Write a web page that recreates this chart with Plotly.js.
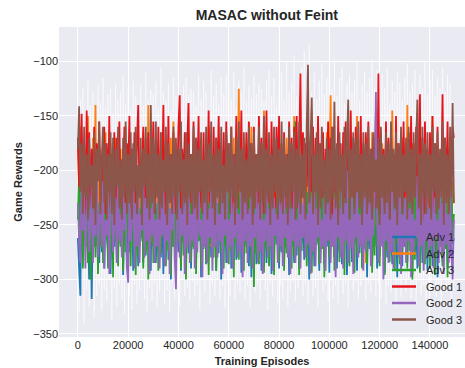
<!DOCTYPE html>
<html>
<head>
<meta charset="utf-8">
<script src="https://cdn.plot.ly/plotly-3.0.1.min.js"></script>
<style>html,body{margin:0;padding:0;background:#fff;}#chart{width:465px;height:368px;}</style>
</head>
<body>
<div id="chart"></div>
<script>
// Rewards logged every 500 training episodes (0 .. 149500)
const episodeStep = 500;
const episodeCount = 300;
const episodes = Array.from({length: episodeCount}, (_, i) => i * episodeStep);

const seriesNames = ["Adv 1", "Adv 2", "Adv 3", "Good 1", "Good 2", "Good 3"];

const adv1 = [
-262,-290,-315,-205,-280,-230,-190,-270,-250,-300,-215,-318,-230,-270,-185,-265,-240,-285,-200,-275,
-215,-290,-195,-260,-275,-210,-295,-240,-200,-270,-225,-285,-190,-255,-268,-220,-296,-235,-210,-282,
-180,-275,-245,-220,-292,-205,-270,-240,-288,-195,-262,-210,-285,-225,-278,-200,-265,-230,-292,-185,
-270,-215,-285,-240,-262,-200,-280,-225,-295,-195,-268,-210,-282,-235,-300,-205,-270,-190,-285,-230,
-275,-215,-292,-200,-266,-240,-288,-210,-276,-195,-290,-225,-270,-205,-284,-235,-265,-200,-298,-220,
-272,-190,-286,-230,-268,-210,-280,-240,-265,-205,-292,-220,-276,-195,-300,-225,-270,-210,-285,-235,
-268,-200,-290,-220,-275,-190,-282,-230,-266,-205,-294,-215,-278,-240,-270,-200,-288,-225,-298,-195,
-272,-235,-286,-210,-268,-220,-292,-200,-276,-240,-285,-215,-270,-230,-295,-205,-280,-225,-268,-195,
-290,-235,-275,-210,-284,-200,-262,-225,-296,-210,-270,-240,-285,-195,-278,-220,-290,-205,-266,-230,
-282,-215,-270,-235,-300,-200,-276,-220,-288,-210,-265,-240,-292,-205,-272,-225,-286,-195,-270,-230,
-294,-210,-268,-235,-280,-200,-290,-220,-274,-205,-286,-240,-265,-215,-296,-225,-270,-200,-284,-230,
-268,-210,-292,-225,-276,-195,-288,-235,-266,-210,-298,-220,-272,-205,-285,-240,-270,-215,-290,-200,
-278,-230,-268,-210,-294,-225,-280,-200,-270,-240,-286,-215,-262,-230,-298,-205,-276,-220,-288,-195,
-270,-235,-284,-210,-266,-225,-296,-200,-278,-240,-290,-215,-268,-230,-285,-205,-274,-220,-292,-210,
-266,-235,-288,-200,-276,-225,-298,-215,-270,-240,-284,-205,-262,-230,-290,-210,-278,-225,-268,-262];

const adv2 = [
-175,-220,-160,-240,-195,-250,-185,-230,-150,-215,-200,-260,-170,-235,-140,-270,-205,-245,-180,-225,
-200,-255,-165,-240,-190,-290,-175,-235,-210,-250,-170,-225,-195,-265,-180,-240,-215,-255,-160,-230,
-205,-250,-180,-225,-195,-260,-175,-240,-200,-270,-185,-230,-165,-245,-210,-255,-140,-235,-190,-265,
-175,-245,-210,-230,-185,-275,-165,-240,-200,-255,-180,-230,-215,-260,-170,-245,-155,-235,-195,-250,
-185,-240,-170,-260,-200,-225,-180,-250,-165,-235,-210,-265,-190,-245,-175,-230,-205,-255,-170,-240,
-195,-250,-180,-225,-160,-270,-200,-235,-185,-250,-170,-240,-210,-230,-175,-260,-190,-245,-165,-235,
-200,-255,-185,-240,-170,-265,-195,-230,-125,-250,-180,-240,-205,-260,-175,-235,-190,-250,-160,-245,
-215,-230,-185,-265,-170,-240,-200,-250,-145,-235,-190,-255,-175,-240,-210,-280,-180,-230,-195,-260,
-165,-245,-200,-235,-185,-270,-170,-240,-205,-255,-180,-230,-150,-250,-195,-245,-175,-260,-210,-235,
-185,-250,-170,-240,-200,-265,-145,-235,-190,-250,-175,-230,-205,-260,-180,-245,-195,-235,-165,-250,
-200,-131,-240,-180,-255,-195,-235,-170,-270,-190,-245,-175,-230,-205,-260,-165,-240,-185,-250,-200,
-175,-235,-150,-260,-195,-245,-180,-230,-205,-285,-170,-240,-190,-255,-165,-235,-200,-250,-160,-240,
-185,-250,-175,-230,-200,-265,-180,-240,-195,-255,-145,-235,-210,-250,-175,-240,-190,-260,-170,-230,
-200,-245,-140,-235,-185,-270,-175,-240,-205,-250,-180,-230,-165,-255,-195,-240,-175,-250,-200,-235,
-185,-260,-150,-240,-200,-225,-175,-275,-190,-245,-165,-235,-205,-250,-180,-240,-195,-255,-210,-230];

const adv3 = [
-245,-200,-270,-215,-290,-225,-260,-185,-285,-205,-300,-225,-265,-195,-280,-210,-295,-230,-270,-190,
-285,-205,-262,-220,-290,-200,-275,-215,-298,-180,-265,-225,-288,-205,-270,-195,-292,-215,-275,-230,
-260,-205,-288,-190,-270,-220,-296,-210,-278,-235,-265,-200,-290,-215,-275,-185,-300,-225,-268,-205,
-285,-215,-270,-230,-292,-200,-276,-220,-262,-195,-288,-210,-274,-235,-296,-205,-270,-225,-282,-190,
-266,-215,-290,-205,-278,-230,-300,-210,-268,-195,-284,-225,-272,-200,-295,-220,-264,-235,-288,-205,
-270,-190,-285,-215,-296,-225,-268,-200,-280,-210,-292,-230,-265,-195,-276,-220,-290,-205,-270,-215,
-286,-200,-274,-225,-298,-210,-266,-190,-282,-220,-270,-205,-292,-185,-276,-230,-264,-215,-288,-200,
-307,-220,-276,-205,-286,-230,-268,-195,-294,-215,-272,-225,-288,-200,-270,-210,-296,-225,-262,-205,
-284,-215,-270,-190,-292,-230,-276,-205,-266,-220,-290,-200,-278,-155,-268,-225,-296,-210,-274,-235,
-262,-205,-288,-220,-270,-200,-294,-215,-276,-190,-268,-225,-286,-205,-272,-215,-298,-220,-265,-200,
-280,-225,-270,-210,-292,-195,-266,-230,-284,-205,-274,-215,-296,-200,-268,-225,-288,-210,-270,-220,
-294,-205,-276,-215,-268,-190,-290,-225,-272,-205,-286,-215,-264,-200,-294,-225,-278,-150,-270,-210,
-288,-220,-266,-200,-296,-215,-274,-230,-284,-205,-270,-220,-292,-195,-268,-215,-286,-235,-276,-205,
-266,-225,-290,-210,-274,-200,-300,-225,-282,-190,-270,-215,-294,-205,-268,-220,-286,-210,-276,-230,
-290,-205,-268,-220,-296,-200,-278,-215,-270,-225,-288,-200,-272,-215,-298,-225,-266,-210,-262,-240];

const good1 = [
-170,-215,-190,-148,-230,-175,-240,-145,-210,-165,-235,-180,-220,-160,-245,-175,-205,-155,-230,-185,
-215,-160,-240,-175,-225,-150,-235,-185,-210,-165,-245,-170,-220,-155,-230,-190,-215,-160,-240,-175,
-205,-150,-235,-180,-220,-165,-245,-175,-140,-225,-190,-215,-160,-235,-170,-250,-165,-225,-185,-210,
-155,-240,-175,-220,-160,-235,-180,-210,-140,-245,-170,-225,-150,-230,-185,-215,-165,-240,-175,-220,
-160,-131,-235,-180,-215,-165,-245,-175,-138,-230,-185,-220,-155,-240,-170,-210,-150,-235,-190,-225,
-165,-240,-175,-215,-145,-230,-185,-220,-160,-245,-170,-210,-150,-235,-180,-225,-165,-240,-155,-215,
-175,-230,-160,-245,-185,-220,-150,-235,-170,-215,-145,-240,-180,-225,-165,-235,-155,-210,-175,-245,
-160,-220,-185,-235,-150,-225,-170,-240,-165,-210,-145,-230,-180,-245,-155,-220,-175,-235,-160,-215,
-150,-240,-175,-225,-165,-235,-185,-215,-155,-230,-170,-245,-160,-220,-150,-235,-180,-111,-225,-165,
-240,-175,-215,-155,-230,-185,-220,-160,-245,-170,-210,-150,-235,-175,-225,-165,-240,-180,-215,-155,
-230,-170,-245,-160,-220,-185,-235,-150,-215,-175,-240,-165,-225,-155,-235,-180,-210,-145,-240,-170,
-225,-160,-235,-185,-215,-150,-245,-175,-220,-165,-230,-155,-240,-180,-215,-170,-235,-145,-225,-111,
-240,-165,-220,-180,-235,-155,-215,-170,-245,-160,-225,-185,-230,-150,-240,-175,-210,-165,-235,-155,
-225,-180,-245,-165,-215,-150,-235,-175,-220,-160,-240,-185,-130,-230,-170,-245,-155,-215,-180,-235,
-165,-220,-150,-240,-175,-225,-160,-235,-185,-210,-130,-240,-170,-225,-155,-235,-180,-215,-160,-170];

const good2 = [
-230,-265,-285,-205,-255,-220,-290,-240,-195,-275,-250,-215,-285,-235,-260,-200,-280,-245,-225,-270,
-210,-290,-245,-260,-215,-295,-235,-205,-275,-250,-225,-285,-200,-265,-240,-280,-215,-255,-230,-290,
-303,-220,-265,-245,-205,-290,-230,-270,-210,-285,-240,-255,-195,-280,-225,-265,-215,-295,-235,-260,
-205,-285,-245,-270,-215,-290,-230,-260,-200,-288,-240,-265,-220,-295,-235,-255,-210,-280,-309,-240,
-215,-280,-235,-260,-205,-295,-225,-270,-190,-285,-240,-265,-210,-290,-230,-275,-200,-260,-245,-298,
-220,-270,-205,-285,-235,-262,-215,-292,-228,-270,-200,-280,-240,-265,-210,-295,-225,-260,-195,-285,
-245,-270,-215,-290,-230,-262,-205,-280,-240,-275,-210,-298,-225,-265,-195,-285,-235,-270,-220,-290,
-240,-262,-205,-285,-230,-275,-215,-295,-245,-265,-200,-280,-235,-270,-210,-292,-225,-260,-240,-285,
-215,-270,-230,-288,-205,-262,-240,-280,-220,-295,-235,-265,-210,-285,-245,-270,-200,-290,-230,-262,
-215,-280,-240,-268,-205,-295,-225,-275,-210,-288,-235,-262,-200,-285,-245,-270,-220,-292,-230,-265,
-210,-285,-240,-270,-225,-298,-205,-262,-235,-280,-215,-290,-230,-265,-200,-285,-245,-272,-220,-295,
-235,-262,-210,-280,-240,-270,-225,-292,-205,-275,-230,-265,-215,-288,-240,-260,-220,-128,-245,-285,
-240,-270,-215,-300,-230,-265,-205,-285,-245,-275,-210,-290,-235,-262,-220,-280,-200,-295,-240,-270,
-225,-285,-210,-265,-235,-298,-215,-275,-245,-262,-205,-288,-230,-270,-220,-292,-240,-265,-210,-280,
-235,-270,-215,-290,-225,-262,-245,-285,-205,-275,-230,-295,-215,-268,-240,-285,-220,-272,-300,-245];

const good3 = [
-180,-141,-220,-175,-240,-160,-225,-185,-245,-170,-215,-195,-235,-165,-250,-180,-210,-155,-240,-190,
-160,-230,-175,-245,-185,-220,-165,-240,-170,-250,-180,-215,-160,-235,-190,-245,-170,-225,-155,-240,
-185,-230,-165,-245,-175,-220,-160,-240,-195,-225,-170,-250,-180,-215,-160,-235,-185,-245,-140,-230,
-170,-240,-155,-225,-185,-245,-165,-235,-190,-220,-160,-250,-175,-230,-185,-240,-160,-225,-170,-245,
-180,-220,-155,-240,-190,-230,-165,-250,-175,-225,-185,-240,-160,-235,-170,-245,-180,-220,-165,-240,
-190,-230,-160,-245,-175,-220,-155,-235,-185,-250,-170,-225,-180,-240,-160,-230,-195,-245,-165,-220,
-175,-240,-160,-225,-185,-250,-170,-235,-155,-220,-180,-245,-165,-230,-190,-240,-160,-225,-175,-250,
-165,-235,-185,-220,-160,-245,-175,-230,-150,-240,-180,-225,-165,-250,-185,-235,-160,-220,-170,-245,
-180,-230,-155,-240,-170,-225,-185,-250,-160,-235,-175,-220,-165,-245,-180,-230,-155,-240,-185,-225,
-170,-245,-160,-103,-230,-175,-133,-240,-185,-220,-165,-250,-175,-235,-160,-225,-190,-240,-170,-230,
-180,-245,-160,-225,-137,-235,-175,-250,-165,-220,-185,-240,-160,-230,-175,-135,-245,-180,-225,-165,
-240,-170,-220,-155,-235,-185,-250,-165,-225,-175,-240,-160,-230,-180,-245,-165,-220,-190,-235,-170,
-250,-160,-225,-185,-240,-165,-230,-175,-245,-155,-220,-180,-235,-165,-250,-175,-225,-160,-240,-185,
-220,-170,-245,-160,-230,-180,-240,-165,-225,-175,-135,-235,-185,-250,-160,-225,-175,-240,-165,-230,
-185,-245,-160,-220,-175,-240,-165,-235,-180,-225,-155,-250,-170,-230,-185,-240,-160,-225,-138,-230];

// faint white spread drawn behind the curves
const spread = [
-120,-330,-135,-305,-125,-340,-145,-310,-118,-325,-140,-300,-128,-335,-150,-315,-122,-305,-138,-328,
-115,-310,-142,-320,-130,-300,-125,-338,-148,-308,-120,-325,-135,-305,-128,-318,-112,-332,-140,-302,
-125,-315,-145,-328,-118,-305,-132,-322,-138,-310,-122,-300,-140,-318,-110,-330,-135,-308,-126,-320,
-130,-305,-118,-325,-142,-312,-105,-300,-128,-322,-136,-310,-120,-330,-145,-303,-115,-318,-132,-306,
-108,-325,-138,-300,-122,-315,-115,-308,-130,-320,-125,-302,-128,-316,-140,-305,-112,-328,-135,-300,
-118,-312,-128,-300,-145,-322,-108,-305,-132,-315,-120,-300,-140,-318,-115,-306,-130,-326,-112,-302,
-125,-315,-135,-300,-110,-320,-142,-305,-118,-312,-128,-300,-105,-318,-138,-306,-122,-325,-134,-300,
-112,-312,-130,-305,-120,-318,-125,-300,-136,-310,-118,-328,-108,-304,-132,-316,-115,-300,-140,-322,
-126,-306,-110,-318,-135,-300,-100,-325,-128,-310,-118,-302,-95,-320,-132,-308,-112,-300,-105,-315,
-90,-305,-120,-322,-85,-300,-128,-316,-110,-308,-135,-325,-118,-300,-102,-312,-130,-304,-115,-320,
-108,-300,-125,-318,-98,-306,-132,-322,-115,-300,-105,-314,-138,-304,-120,-326,-112,-300,-128,-310,
-118,-302,-100,-318,-135,-306,-122,-300,-110,-320,-128,-305,-115,-312,-98,-300,-125,-316,-108,-304,
-130,-318,-112,-300,-125,-322,-105,-306,-138,-312,-118,-300,-128,-325,-110,-304,-120,-316,-135,-300,
-115,-312,-102,-300,-128,-318,-120,-305,-108,-322,-135,-300,-112,-314,-125,-306,-100,-320,-130,-302,
-118,-310,-108,-300,-132,-316,-115,-304,-125,-320,-105,-300,-128,-312,-112,-306,-120,-318,-136,-310];

const seriesValues = [adv1, adv2, adv3, good1, good2, good3];
const seriesColors = ["#1f77b4", "#ff7f0e", "#2ca02c", "#e8141c", "#9467bd", "#8c564b"];

const yTicks = [-350, -300, -250, -200, -150, -100];
const xTicks = [0, 20000, 40000, 60000, 80000, 100000, 120000, 140000];

const traces = [{
  x: episodes, y: spread, type: "scatter", mode: "lines",
  line: {color: "rgba(255,255,255,0.5)", width: 1, simplify: false},
  showlegend: false, hoverinfo: "skip"
}];
seriesNames.forEach((name, k) => {
  traces.push({
    x: episodes, y: seriesValues[k], type: "scatter", mode: "lines",
    name: name, line: {color: seriesColors[k], width: 1.8, simplify: false},
    showlegend: false
  });
});

const font = "Liberation Sans, Arial, sans-serif";

// Legend drawn as key lines + labels (matplotlib spacing)
const L = 59, W = 406, B = 337, H = 310;
const px2x = p => (p - L) / W;
const py2y = p => (B - p) / H;
const legendRows = [237, 253.5, 270, 286.5, 303, 319.5];
const shapes = [], annotations = [];
seriesNames.forEach((name, k) => {
  const yy = py2y(legendRows[k]);
  shapes.push({type: "line", xref: "paper", yref: "paper",
    x0: px2x(392), x1: px2x(416), y0: yy, y1: yy,
    line: {color: seriesColors[k], width: 2.5}});
  annotations.push({xref: "paper", yref: "paper", x: px2x(424), y: yy,
    xanchor: "left", yanchor: "middle", showarrow: false, text: name,
    font: {family: font, size: 11, color: "#262626"}});
});

const layout = {
  width: 465, height: 368,
  margin: {l: 59, r: 0, t: 27, b: 31},
  paper_bgcolor: "#ffffff",
  plot_bgcolor: "#EAEAF2",
  font: {family: font, size: 11, color: "#262626"},
  title: {
    text: "<b>MASAC without Feint</b>",
    font: {family: font, size: 14, color: "#262626"},
    xref: "paper", x: 0.512, xanchor: "center",
    yref: "container", y: 0.959, yanchor: "middle"
  },
  xaxis: {
    range: [-7500, 153930],
    tickvals: xTicks, tickformat: "d",
    showgrid: true, gridcolor: "#ffffff", gridwidth: 1,
    zeroline: false, showline: false, ticks: "",
    tickfont: {family: font, size: 11, color: "#262626"},
    title: {text: "<b>Training Episodes</b>", font: {family: font, size: 11, color: "#262626"}, standoff: 7}
  },
  yaxis: {
    range: [-352.9, -68.3],
    tickvals: yTicks,
    showgrid: true, gridcolor: "#ffffff", gridwidth: 1,
    zeroline: false, showline: false, ticks: "",
    tickfont: {family: font, size: 11, color: "#262626"},
    title: {text: "<b>Game Rewards</b>", font: {family: font, size: 11, color: "#262626"}, standoff: 8}
  },
  shapes: shapes,
  annotations: annotations,
  showlegend: false
};

Plotly.newPlot("chart", traces, layout, {displayModeBar: false, staticPlot: true});
</script>
</body>
</html>
